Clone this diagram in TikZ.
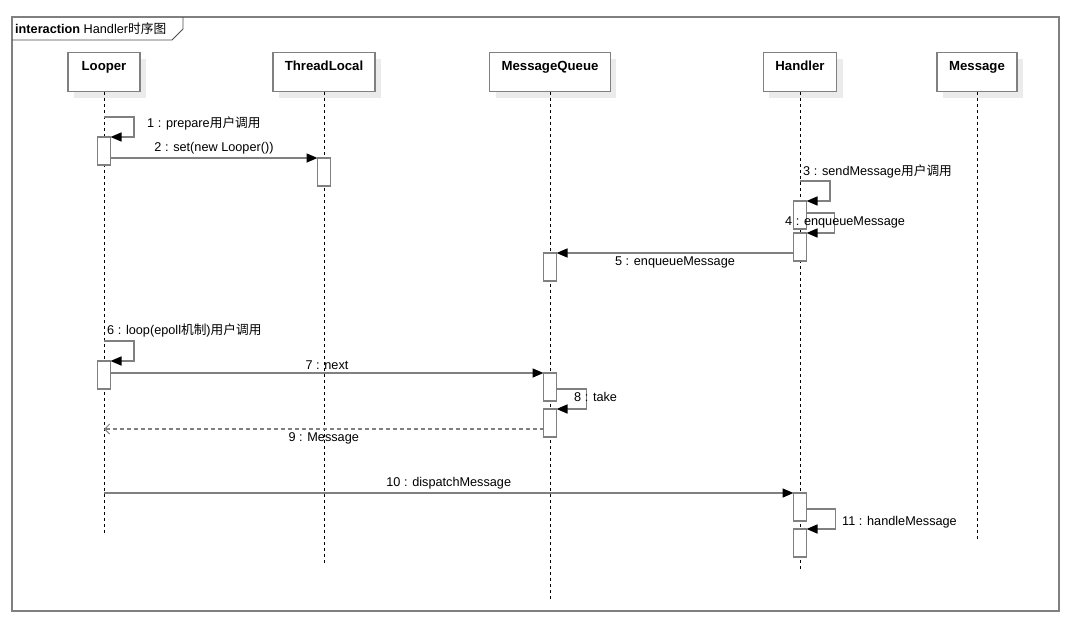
\documentclass[tikz,border=0pt]{standalone}
\usepackage{fontspec}
\setmainfont{Liberation Sans}
\newfontfamily\cjk{Noto Sans CJK SC}
\usetikzlibrary{arrows.meta,shadows}

\begin{document}
\begin{tikzpicture}[
        x=1pt, y=-1pt,
        every node/.style={font=\fontsize{12.7}{15}\selectfont},
        kopf/.style={draw=black!50, line width=1.5pt, fill=white, inner xsep=12pt, inner ysep=0pt,
                     text height=18pt, text depth=21pt, font=\fontsize{13.2}{15}\selectfont\bfseries,
                     drop shadow={shadow xshift=6pt, shadow yshift=-6pt, fill=black!8, opacity=1}},
        balken/.style={draw=black!50, line width=1.5pt, fill=white, inner sep=0pt, outer sep=0pt,
                       minimum width=13pt, minimum height=28pt},
        lebenslinie/.style={draw=black, line width=0.8pt, dash pattern=on 3pt off 3pt},
        nachricht/.style={draw=black!50, line width=1.5pt,
                          -{Triangle[length=11pt, width=9pt, color=black]}},
        antwort/.style={draw=black!50, line width=1.5pt, dash pattern=on 4pt off 3pt,
                        -{Straight Barb[length=5pt, width=10pt, line width=1pt]}},
        beschriftung/.style={inner sep=0pt}
    ]
        \useasboundingbox (0,0) rectangle (1081,624);

        % rahmen
        \draw[draw=black!50, line width=1.5pt] (12,17) rectangle (1059,611);
        \node[beschriftung, anchor=west] (titel) at (15,29) {\textbf{interaction} Handler{\cjk 时序图}};
        \draw[black!70, line width=0.8pt] (12,40) -- (172,40) -- (183,29) -- (183,17);

        % lebenslinien
        \node[kopf, minimum width=72pt]  (lp) at (104,72) {Looper};
        \node[kopf, minimum width=97pt]  (tl) at (324,72) {ThreadLocal};
        \node[kopf, minimum width=115pt] (mq) at (550,72) {MessageQueue};
        \node[kopf, minimum width=73pt]  (hd) at (800,72) {Handler};
        \node[kopf, minimum width=75pt]  (ms) at (977,72) {Message};

        \foreach \k/\x/\e in {lp/104/533, tl/324/563, mq/550/600, hd/800/570, ms/977/540} {
            \coordinate (\k-ende) at (\x,\e);
            \draw[lebenslinie] (\k.south) -- (\k-ende);
        }

        % aktivierungen
        \node[balken] (a1) at (104,151) {};
        \node[balken] (t1) at (324,172) {};
        \node[balken] (h1) at (800,215) {};
        \node[balken] (h2) at (800,247) {};
        \node[balken] (q1) at (550,267) {};
        \node[balken] (a2) at (104,375) {};
        \node[balken] (q2) at (550,387) {};
        \node[balken] (q3) at (550,423) {};
        \node[balken] (h3) at (800,507) {};
        \node[balken] (h4) at (800,543) {};

        \coordinate (m1)  at (104,117);
        \coordinate (m3)  at (800,181);
        \coordinate (m6)  at (104,341);
        \coordinate (m9)  at (104,429);
        \coordinate (m10) at (104,493);

        % nachrichten
        \draw[nachricht] (m1) -- ++(30,0) |- (a1.north east);
        \draw[nachricht] ([yshift=7pt]a1.south east) -- (t1.north west)
            node[beschriftung, midway, above=3pt] (b2) {2 : set(new Looper())};
        \draw[nachricht] (m3) -- ++(30,0) |- (h1.north east);
        \draw[nachricht] ([yshift=2pt]h1.east) -- ++(28,0) |- (h2.north east);
        \draw[nachricht] ([yshift=8pt]h2.south west) -- (q1.north east)
            node[beschriftung, midway, below=3pt] (b5) {5 : enqueueMessage};
        \draw[nachricht] (m6) -- ++(30,0) |- (a2.north east);
        \draw[nachricht] ([yshift=16pt]a2.south east) -- (q2.north west)
            node[beschriftung, midway, above=3pt] (b7) {7 : next};
        \draw[nachricht] ([yshift=12pt]q2.south east) -- ++(30,0) |- (q3.north east);
        \draw[antwort] ([yshift=8pt]q3.south west) -- (m9)
            node[beschriftung, midway, below=3pt] (b9) {9 : Message};
        \draw[nachricht] (m10) -- (h3.north west)
            node[beschriftung, midway, above=3pt] (b10) {10 : dispatchMessage};
        \draw[nachricht] ([yshift=12pt]h3.south east) -- ++(29,0) |- (h4.north east);

        \node[beschriftung, anchor=west] (b1)  at (147,123) {1 : prepare{\cjk 用户调用}};
        \node[beschriftung, anchor=west] (b3)  at (803,171) {3 : sendMessage{\cjk 用户调用}};
        \node[beschriftung, anchor=west] (b4)  at (785,222) {4 : enqueueMessage};
        \node[beschriftung, anchor=west] (b6)  at (107,330) {6 : loop(epoll{\cjk 机制})\cjk 用户调用};
        \node[beschriftung, anchor=west] (b8)  at (574,397) {8 : take};
        \node[beschriftung, anchor=west] (b11) at (842,522) {11 : handleMessage};
    \end{tikzpicture}
\end{document}
